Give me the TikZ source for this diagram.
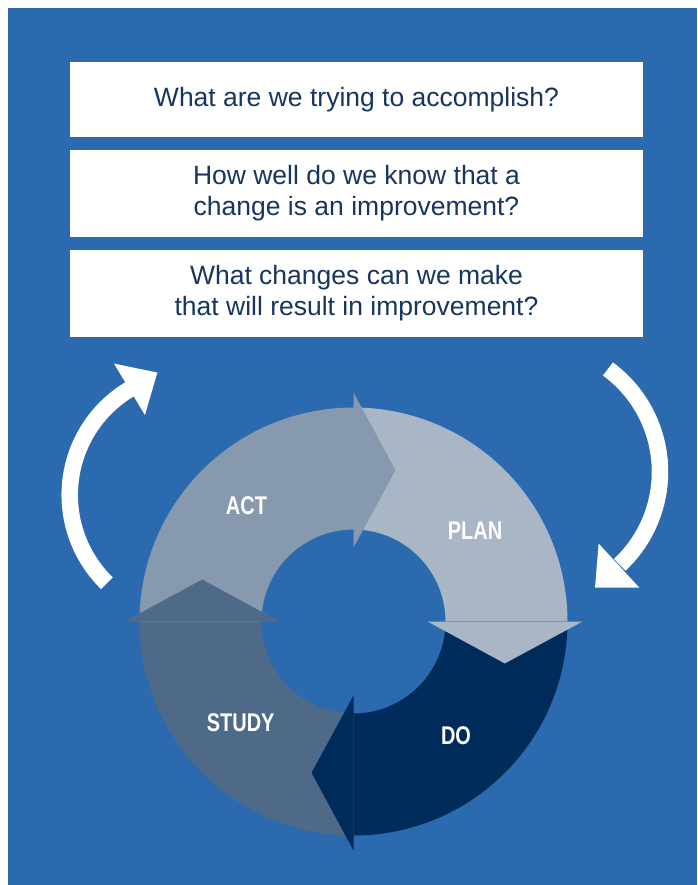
\documentclass[tikz,border=0pt]{standalone}
\usepackage{fontspec}
\setmainfont{Liberation Sans}
\newfontfamily\condbold{Liberation Sans}[FakeStretch=0.78]
\usetikzlibrary{calc}
\definecolor{bgblue}{RGB}{43,106,174}
\definecolor{actcol}{RGB}{135,153,174}
\definecolor{plancol}{RGB}{169,182,197}
\definecolor{docol}{RGB}{0,44,92}
\definecolor{studycol}{RGB}{78,106,136}
\definecolor{navytext}{RGB}{22,54,96}
\tikzset{
  qbox/.style={fill=white, minimum width=573pt, inner sep=0pt, align=center,
    text=navytext, font=\fontsize{26.5}{31.5}\selectfont},
  cyclabel/.style={text=white, inner sep=0pt, font=\condbold\bfseries\fontsize{25.6}{28}\selectfont},
  whitearrow/.style={draw=white, line width=16.5pt},
}
\begin{document}
\begin{tikzpicture}[x=1pt,y=1pt]
\useasboundingbox (0,0) rectangle (697,-885);
\fill[bgblue] (8,-8) rectangle (697,-885);

% question boxes
\node[qbox, minimum height=74.7pt] (q1) at (356.5,-99.3) {What are we trying to accomplish?};
\node[qbox, minimum height=86.7pt] (q2) at (356.5,-193.3) {How well do we know that a\\change is an improvement?};
\node[qbox, minimum height=86.7pt] (q3) at (356.5,-293.3) {What changes can we make\\that will result in improvement?};

% PDSA ring
\begin{scope}[shift={(353.5,-621.5)}]
  \foreach \a/\col in {90/plancol, 0/docol, -90/studycol, 180/actcol}{
    \fill[\col] (\a:214) arc[start angle=\a, end angle=\a-91, radius=214]
      -- (\a-91:92) arc[start angle=\a-91, end angle=\a, radius=92] -- cycle;
  }
  \foreach \a/\col in {90/plancol, 0/docol, -90/studycol, 180/actcol}{
    \fill[\col] (\a-90:74) -- (\a-105.5:157) -- (\a-90:229) -- cycle;
  }
\end{scope}

\node[cyclabel] (act) at (246.5,-506) {ACT};
\node[cyclabel] (plan) at (475,-531) {PLAN};
\node[cyclabel] (study) at (240.7,-722.5) {STUDY};
\node[cyclabel] (do) at (456,-736) {DO};

% left curved arrow
\coordinate (lc) at (193,-495);
\draw[whitearrow] ($(lc)+(225.7:123.3)$) arc[start angle=225.7, end angle=120.5, radius=123.3];
\coordinate (lb) at ($(lc)+(121:123.3)$);
\fill[white] ($(lc)+(121:153.3)$) -- ($(lb)+(31:32.5)$) -- ($(lc)+(121:93.3)$) -- cycle;

% right curved arrow
\coordinate (rc) at (532.4,-471.8);
\draw[whitearrow] ($(rc)+(53.7:127.6)$) arc[start angle=53.7, end angle=-46.8, radius=127.6];
\coordinate (rb) at ($(rc)+(-47.3:127.6)$);
\fill[white] ($(rc)+(-47.3:157.6)$) -- ($(rb)+(-137.3:32.5)$) -- ($(rc)+(-47.3:97.6)$) -- cycle;
\end{tikzpicture}
\end{document}
